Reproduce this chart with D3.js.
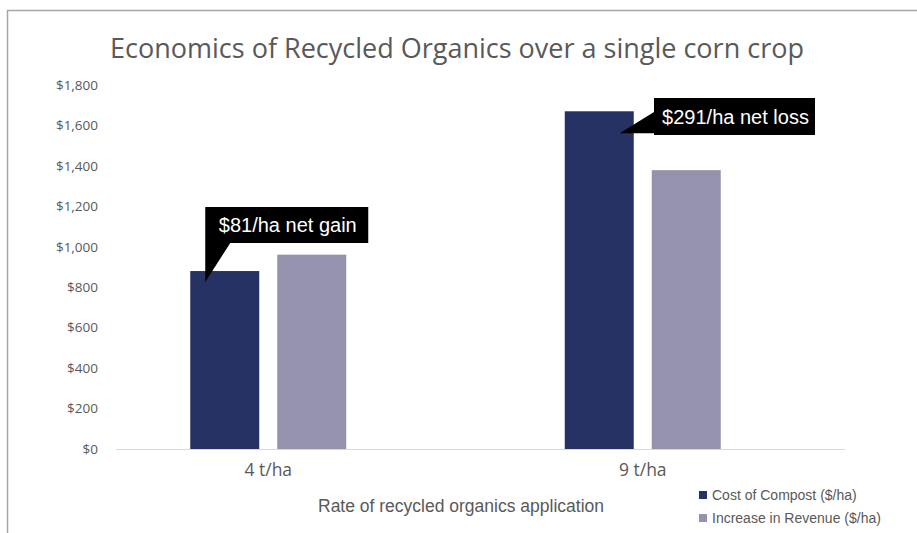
<!DOCTYPE html>
<html>
<head>
<meta charset="utf-8">
<script src="https://cdn.jsdelivr.net/npm/d3@7"></script>
<style>
  html, body { margin: 0; padding: 0; background: #fff; }
  svg { display: block; }
</style>
</head>
<body>
<svg id="chart" width="917" height="533"></svg>
<script>
const categories = ["4 t/ha", "9 t/ha"];
const seriesNames = ["Cost of Compost ($/ha)", "Increase in Revenue ($/ha)"];
const costOfCompost = [880, 1670];
const increaseInRevenue = [961, 1379];
const yTicks = [0, 200, 400, 600, 800, 1000, 1200, 1400, 1600, 1800];
const callouts = ["$81/ha net gain", "$291/ha net loss"];

const colors = ["#253263", "#9592AE"];
const svg = d3.select("#chart");
const W = 917, H = 533;

// frame
svg.append("path")
  .attr("d", `M7.5,${H} L7.5,10.5 L${W},10.5`)
  .attr("fill", "none").attr("stroke", "#a6a6a6").attr("stroke-width", 1.5);

const y = d3.scaleLinear().domain([0, 1800]).range([449, 85]);
const x0 = d3.scaleBand().domain(categories).range([81, 830]).paddingInner(0).paddingOuter(0);
const x1 = d3.scaleBand().domain(seriesNames).range([0, 156]).paddingInner(18 / 87).paddingOuter(0);

// title
svg.append("text")
  .attr("x", 457).attr("y", 58)
  .attr("text-anchor", "middle")
  .attr("font-family", "Open Sans, sans-serif")
  .attr("font-size", 27)
  .attr("fill", "#595959")
  .text("Economics of Recycled Organics over a single corn crop");

// y axis
const yAxis = d3.axisLeft(y).tickValues(yTicks).tickFormat(d3.format("$,")).tickSize(0).tickPadding(0);
const gy = svg.append("g").attr("transform", "translate(98,0)").call(yAxis);
gy.select(".domain").remove();
gy.selectAll("text")
  .attr("font-family", "Open Sans, sans-serif")
  .attr("font-size", 13.5)
  .attr("fill", "#595959");

// baseline
svg.append("line")
  .attr("x1", 116).attr("x2", 845)
  .attr("y1", y(0) + 0.5).attr("y2", y(0) + 0.5)
  .attr("stroke", "#d9d9d9").attr("stroke-width", 1);

// bars
const data = categories.map((c, i) => ({ cat: c, vals: [costOfCompost[i], increaseInRevenue[i]] }));
const groupOffset = (x0.bandwidth() - 156) / 2;
const groups = svg.append("g").selectAll("g").data(data).join("g")
  .attr("transform", d => `translate(${x0(d.cat) + groupOffset},0)`);
groups.selectAll("rect")
  .data(d => d.vals.map((v, j) => ({ name: seriesNames[j], v, j })))
  .join("rect")
  .attr("x", d => x1(d.name))
  .attr("width", x1.bandwidth())
  .attr("y", d => y(d.v))
  .attr("height", d => y(0) - y(d.v))
  .attr("fill", d => colors[d.j]);

// x axis labels
const xAxis = d3.axisBottom(x0).tickSize(0).tickPadding(0);
const gx = svg.append("g").attr("transform", "translate(0,464)").call(xAxis);
gx.select(".domain").remove();
gx.selectAll("text")
  .attr("font-family", "Open Sans, sans-serif")
  .attr("font-size", 17.5)
  .attr("fill", "#595959");

// x axis title
svg.append("text")
  .attr("x", 461).attr("y", 512)
  .attr("text-anchor", "middle")
  .attr("font-family", "Liberation Sans, Arial, sans-serif")
  .attr("font-size", 17.5)
  .attr("fill", "#595959")
  .text("Rate of recycled organics application");

// callouts
const barLeft = (i, j) => x0(categories[i]) + groupOffset + x1(seriesNames[j]);
{
  const tipX = barLeft(0, 0) + 15, tipY = y(costOfCompost[0]) + 11;
  const rx = tipX, ry = 207, rw = 163, rh = 36;
  const g = svg.append("g");
  g.append("path")
    .attr("d", `M${rx},${ry} h${rw} v${rh} H${rx + 25} L${tipX},${tipY} Z`)
    .attr("fill", "#000");
  g.append("text")
    .attr("x", rx + rw / 2 + 1).attr("y", ry + rh / 2 + 7)
    .attr("text-anchor", "middle")
    .attr("font-family", "Liberation Sans, Arial, sans-serif")
    .attr("font-size", 20)
    .attr("fill", "#fff")
    .text(callouts[0]);
}
{
  const tipX = barLeft(1, 0) + x1.bandwidth() - 14, tipY = y(costOfCompost[1]) + 22;
  const rx = 654, ry = 98, rw = 161, rh = 37;
  const g = svg.append("g");
  g.append("path")
    .attr("d", `M${rx},${ry} h${rw} v${rh} H${rx} V${tipY} H${tipX} L${rx},${ry + 14} Z`)
    .attr("fill", "#000");
  g.append("text")
    .attr("x", rx + rw / 2 + 1).attr("y", ry + rh / 2 + 7)
    .attr("text-anchor", "middle")
    .attr("font-family", "Liberation Sans, Arial, sans-serif")
    .attr("font-size", 20)
    .attr("fill", "#fff")
    .text(callouts[1]);
}

// legend
const lg = svg.append("g").attr("transform", "translate(699,491)");
seriesNames.forEach((n, i) => {
  lg.append("rect").attr("x", 0).attr("y", i * 23).attr("width", 8).attr("height", 8).attr("fill", colors[i]);
  lg.append("text")
    .attr("x", 13).attr("y", i * 23 + 9)
    .attr("font-family", "Liberation Sans, Arial, sans-serif")
    .attr("font-size", 14)
    .attr("fill", "#595959")
    .text(n);
});
</script>
</body>
</html>
